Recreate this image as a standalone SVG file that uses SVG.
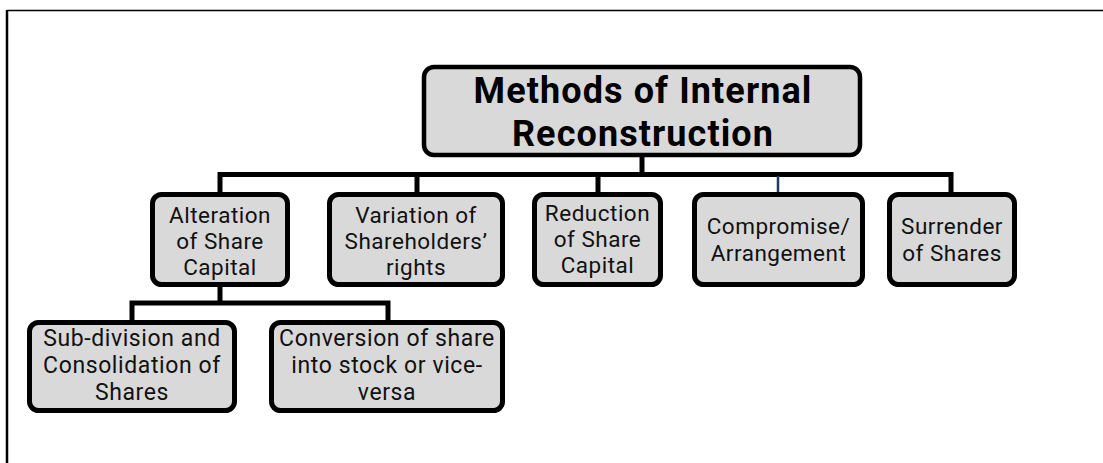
<svg xmlns="http://www.w3.org/2000/svg" width="1103" height="463" viewBox="0 0 1103 463">
<style>
.box{fill:#d9d9d9;stroke:#000;stroke-width:5}
.main{fill:#d9d9d9;stroke:#000;stroke-width:4.5}
.t{font-family:Roboto,"Open Sans",sans-serif;font-size:22.5px;letter-spacing:0.5px;fill:#111;text-anchor:middle}
.t2{font-family:Roboto,"Open Sans",sans-serif;font-size:23px;letter-spacing:0.6px;fill:#111;text-anchor:middle}
.tt{font-family:Roboto,"Open Sans",sans-serif;font-size:36px;letter-spacing:1.1px;font-weight:bold;fill:#000;text-anchor:middle}
.c{fill:none;stroke:#000;stroke-width:5}
</style>
<rect width="1103" height="463" fill="#fff"/>
<g id="frame">
<line x1="7" y1="10.5" x2="1103" y2="10.5" stroke="#000" stroke-width="1.5"/>
<line x1="7" y1="10" x2="7" y2="463" stroke="#000" stroke-width="2.5"/>
</g>
<g id="connectors">
<path class="c" d="M642,157 V174.5"/>
<path class="c" d="M220,192 V174.5 H951 V192"/>
<path class="c" d="M417,174.5 V192"/>
<path class="c" d="M598,174.5 V192"/>
<path d="M778,176 V192" stroke="#1f3864" stroke-width="2.5"/>
<path class="c" d="M220,287 V303"/>
<path class="c" d="M132,320 V303 H388 V320"/>
</g>
<g id="n-main">
<rect class="main" x="424" y="67" width="436" height="88" rx="10"/>
<text class="tt" x="643" y="103">Methods of Internal</text>
<text class="tt" x="643" y="146">Reconstruction</text>
</g>
<g id="n-alteration">
<rect class="box" x="152.5" y="194.5" width="135" height="90" rx="9"/>
<text class="t" x="220" y="223">Alteration</text>
<text class="t" x="220" y="249">of Share</text>
<text class="t" x="220" y="275">Capital</text>
</g>
<g id="n-variation">
<rect class="box" x="329.5" y="194.5" width="173" height="90" rx="9"/>
<text class="t" x="416" y="223">Variation of</text>
<text class="t" x="416" y="249">Shareholders’</text>
<text class="t" x="416" y="275">rights</text>
</g>
<g id="n-reduction">
<rect class="box" x="534.5" y="194.5" width="126" height="90" rx="9"/>
<text class="t" x="597.5" y="221">Reduction</text>
<text class="t" x="597.5" y="247">of Share</text>
<text class="t" x="597.5" y="273">Capital</text>
</g>
<g id="n-compromise">
<rect class="box" x="694.5" y="194.5" width="168" height="90" rx="9"/>
<text class="t" x="778.5" y="234">Compromise/</text>
<text class="t" x="778.5" y="261">Arrangement</text>
</g>
<g id="n-surrender">
<rect class="box" x="889.5" y="194.5" width="125" height="90" rx="9"/>
<text class="t" x="952" y="234">Surrender</text>
<text class="t" x="952" y="261">of Shares</text>
</g>
<g id="n-subdivision">
<rect class="box" x="29.5" y="322.5" width="205" height="88" rx="9"/>
<text class="t2" x="132" y="346">Sub-division and</text>
<text class="t2" x="132" y="373">Consolidation of</text>
<text class="t2" x="132" y="400">Shares</text>
</g>
<g id="n-conversion">
<rect class="box" x="271.5" y="322.5" width="231" height="88" rx="9"/>
<text class="t2" x="387" y="346">Conversion of share</text>
<text class="t2" x="387" y="373">into stock or vice-</text>
<text class="t2" x="387" y="400">versa</text>
</g>
</svg>
